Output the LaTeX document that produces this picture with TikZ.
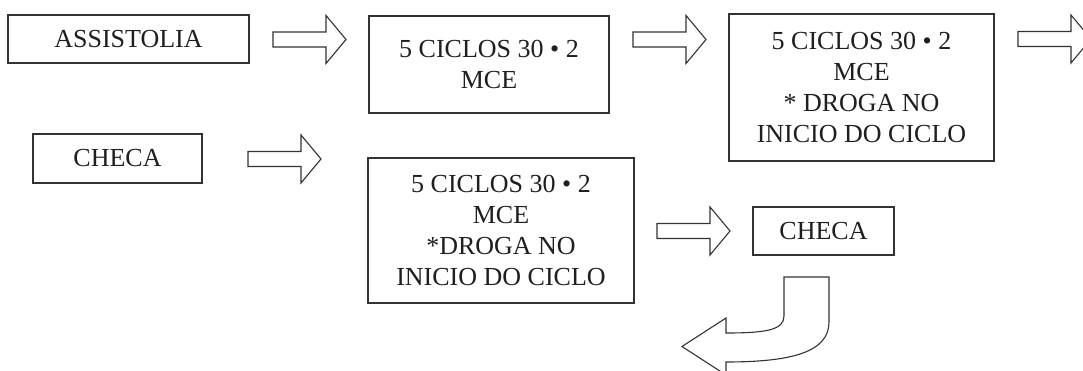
\documentclass[tikz,border=0pt]{standalone}
\usepackage{fontspec}
\setmainfont{Liberation Serif}
\usepackage{tikz}
\usetikzlibrary{calc}

\definecolor{inkgray}{HTML}{333333}
\tikzset{
	caixa/.style={draw=inkgray, line width=1.1pt, align=center, inner sep=0pt, text=black!88,
		font=\fontsize{26}{31}\selectfont},
	seta/.style={draw=inkgray, line width=1.1pt, fill=white}
}
% block arrow, #1 = left end of the shaft (middle)
\newcommand{\fatarrow}[1]{%
	\draw[seta, shift={#1}] (0,-7.5) -- (53,-7.5) -- (53,-24) -- (73,0) -- (53,24) -- (53,7.5) -- (0,7.5) -- cycle;}

\begin{document}
\begin{tikzpicture}[x=1pt, y=-1pt]
		\clip (0,0) rectangle (1083,371);
		\fill[white] (0,0) rectangle (1083,371);

		% first row
		\node[caixa, minimum width=241pt, minimum height=48pt] (assist) at (128.5,39) {ASSISTOLIA};
		\node[caixa, minimum width=240pt, minimum height=97pt] (ciclo1) at (489,64.5) {5 CICLOS 30 • 2\\MCE};
		\node[caixa, minimum width=265pt, minimum height=147pt] (ciclo2) at (861.5,87.5) {5 CICLOS 30 • 2\\MCE\\* DROGA NO\\INICIO DO CICLO};
		\fatarrow{(273,39.5)}
		\fatarrow{(633,39.5)}
		\fatarrow{(1018,39)}

		% second row
		\node[caixa, minimum width=169pt, minimum height=49pt] (checa1) at (117.5,158.5) {CHECA};
		\node[caixa, minimum width=266pt, minimum height=145pt] (ciclo3) at (501,230.5) {5 CICLOS 30 • 2\\MCE\\*DROGA NO\\INICIO DO CICLO};
		\node[caixa, minimum width=141pt, minimum height=48pt] (checa2) at (823.5,231) {CHECA};
		\fatarrow{(248,159)}
		\fatarrow{(657,231)}

		% curved arrow back
		\draw[seta] (784,277) -- (829,277) -- (829,322)
			.. controls (829,352) and (792,362) .. (726,362)
			-- (726,375) -- (682,346.5) -- (726,318) -- (726,333)
			.. controls (766,333) and (784,330) .. (784,316) -- cycle;
	\end{tikzpicture}
\end{document}
